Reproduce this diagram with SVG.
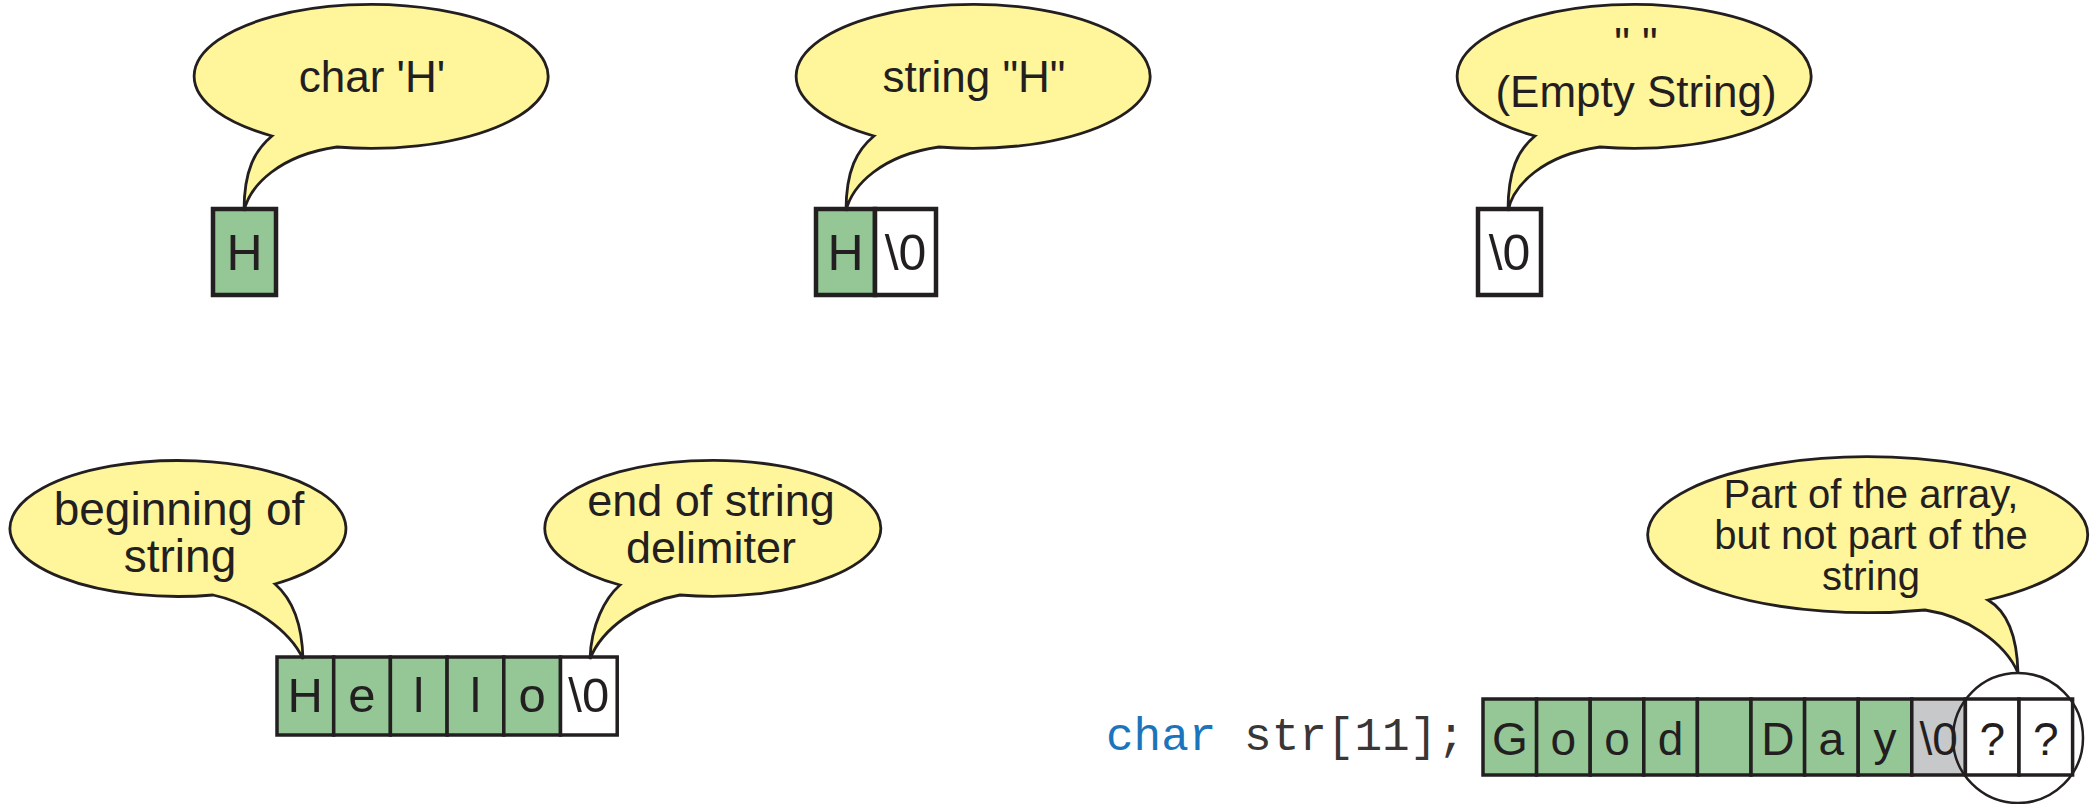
<svg xmlns="http://www.w3.org/2000/svg" width="2097" height="804" viewBox="0 0 2097 804">
  <style>
    .bubble { fill: #fff59b; stroke: #231f20; stroke-width: 2.8; stroke-linejoin: miter; }
    .btxt { font-family: "Liberation Sans", Arial, sans-serif; fill: #231f20; text-anchor: middle; }
    .cell { stroke: #231f20; stroke-width: 3.5; }
    .big { stroke-width: 4.5; }
    .g { fill: #94c795; }
    .w { fill: #ffffff; }
    .k { fill: #c7c8ca; }
    .ctxt { font-family: "Liberation Sans", Arial, sans-serif; fill: #231f20; text-anchor: middle; }
    .code { font-family: "Liberation Mono", "Courier New", monospace; font-size: 46px; fill: #3a3636; }
  </style>

  <!-- single character 'H' -->
  <g id="char-h">
    <rect class="cell big g" x="213" y="209" width="63" height="86"/>
    <text class="ctxt" x="244.5" y="270" font-size="50">H</text>
  </g>
  <g id="bubble-char-h">
    <path class="bubble" d="M 337,147 A 177 72 0 1 0 272,136 C 255,150 244,170 244,211 C 250,185 280,155 337,147 Z"/>
    <text class="btxt" x="372" y="92" font-size="44">char 'H'</text>
  </g>

  <!-- string "H" -->
  <g id="string-h">
    <rect class="cell big g" x="816" y="209" width="59" height="86"/>
    <rect class="cell big w" x="875" y="209" width="61" height="86"/>
    <text class="ctxt" x="845.5" y="270" font-size="50">H</text>
    <text class="ctxt" x="905.5" y="270" font-size="50">\0</text>
  </g>
  <g id="bubble-string-h">
    <path class="bubble" d="M 939,147 A 177 72 0 1 0 874,136 C 857,150 846,170 846,211 C 852,185 882,155 939,147 Z"/>
    <text class="btxt" x="974" y="92" font-size="44">string "H"</text>
  </g>

  <!-- empty string -->
  <g id="empty-string">
    <rect class="cell big w" x="1478" y="209" width="63" height="86"/>
    <text class="ctxt" x="1509.5" y="270" font-size="50">\0</text>
  </g>
  <g id="bubble-empty">
    <path class="bubble" d="M 1600,147 A 177 72 0 1 0 1535,136 C 1518,150 1508,170 1508,211 C 1513,185 1543,155 1600,147 Z"/>
    <text class="btxt" x="1636" y="59" font-size="44">" "</text>
    <text class="btxt" x="1636" y="107" font-size="44">(Empty String)</text>
  </g>

  <!-- "Hello" with terminator -->
  <g id="hello">
    <rect class="cell g" x="277" y="657" width="56.7" height="78"/>
    <rect class="cell g" x="333.7" y="657" width="56.7" height="78"/>
    <rect class="cell g" x="390.4" y="657" width="56.7" height="78"/>
    <rect class="cell g" x="447.1" y="657" width="56.7" height="78"/>
    <rect class="cell g" x="503.8" y="657" width="56.7" height="78"/>
    <rect class="cell w" x="560.5" y="657" width="56.7" height="78"/>
    <g class="ctxt" font-size="49">
      <text x="305.3" y="712">H</text>
      <text x="362" y="712">e</text>
      <text x="418.7" y="712">l</text>
      <text x="475.4" y="712">l</text>
      <text x="532.1" y="712">o</text>
      <text x="588.8" y="712">\0</text>
    </g>
  </g>
  <g id="bubble-begin">
    <path class="bubble" d="M 213,595 A 168 68 0 1 1 275,584 C 290,597 302,620 303,659 C 290,630 250,603 213,595 Z"/>
    <text class="btxt" x="179" y="525" font-size="46">beginning of</text>
    <text class="btxt" x="180" y="572" font-size="46">string</text>
  </g>
  <g id="bubble-end">
    <path class="bubble" d="M 680,595 A 168 68 0 1 0 620,585 C 605,598 591,625 590,659 C 602,628 640,602 680,595 Z"/>
    <text class="btxt" x="711" y="516" font-size="45">end of string</text>
    <text class="btxt" x="711" y="563" font-size="45">delimiter</text>
  </g>

  <!-- char str[11]; holding "Good Day" -->
  <g id="declaration">
    <text class="code" x="1106" y="750"><tspan fill="#1b75bc">char</tspan> str[11];</text>
  </g>
  <g id="good-day">
    <rect class="cell g" x="1483" y="699" width="53.6" height="76"/>
    <rect class="cell g" x="1536.6" y="699" width="53.6" height="76"/>
    <rect class="cell g" x="1590.2" y="699" width="53.6" height="76"/>
    <rect class="cell g" x="1643.8" y="699" width="53.6" height="76"/>
    <rect class="cell g" x="1697.4" y="699" width="53.6" height="76"/>
    <rect class="cell g" x="1751" y="699" width="53.6" height="76"/>
    <rect class="cell g" x="1804.6" y="699" width="53.6" height="76"/>
    <rect class="cell g" x="1858.2" y="699" width="53.6" height="76"/>
    <rect class="cell k" x="1911.8" y="699" width="53.6" height="76"/>
    <rect class="cell w" x="1965.4" y="699" width="53.6" height="76"/>
    <rect class="cell w" x="2019" y="699" width="53.6" height="76"/>
    <g class="ctxt" font-size="46">
      <text x="1509.8" y="755">G</text>
      <text x="1563.4" y="755">o</text>
      <text x="1617" y="755">o</text>
      <text x="1670.6" y="755">d</text>
      <text x="1777.8" y="755">D</text>
      <text x="1831.4" y="755">a</text>
      <text x="1885" y="755">y</text>
      <text x="1938.6" y="755">\0</text>
      <text x="1992.2" y="755">?</text>
      <text x="2045.8" y="755">?</text>
    </g>
  </g>
  <g id="unused-marker">
    <circle cx="2018" cy="738" r="65" fill="none" stroke="#231f20" stroke-width="2.5"/>
  </g>
  <g id="bubble-unused">
    <path class="bubble" d="M 1925,610 A 220 78 0 1 1 1988,600 C 2005,610 2017,632 2018,673 C 2005,642 1965,616 1925,610 Z"/>
    <text class="btxt" x="1871" y="508" font-size="40">Part of the array,</text>
    <text class="btxt" x="1871" y="549" font-size="40">but not part of the</text>
    <text class="btxt" x="1871" y="590" font-size="40">string</text>
  </g>
</svg>
